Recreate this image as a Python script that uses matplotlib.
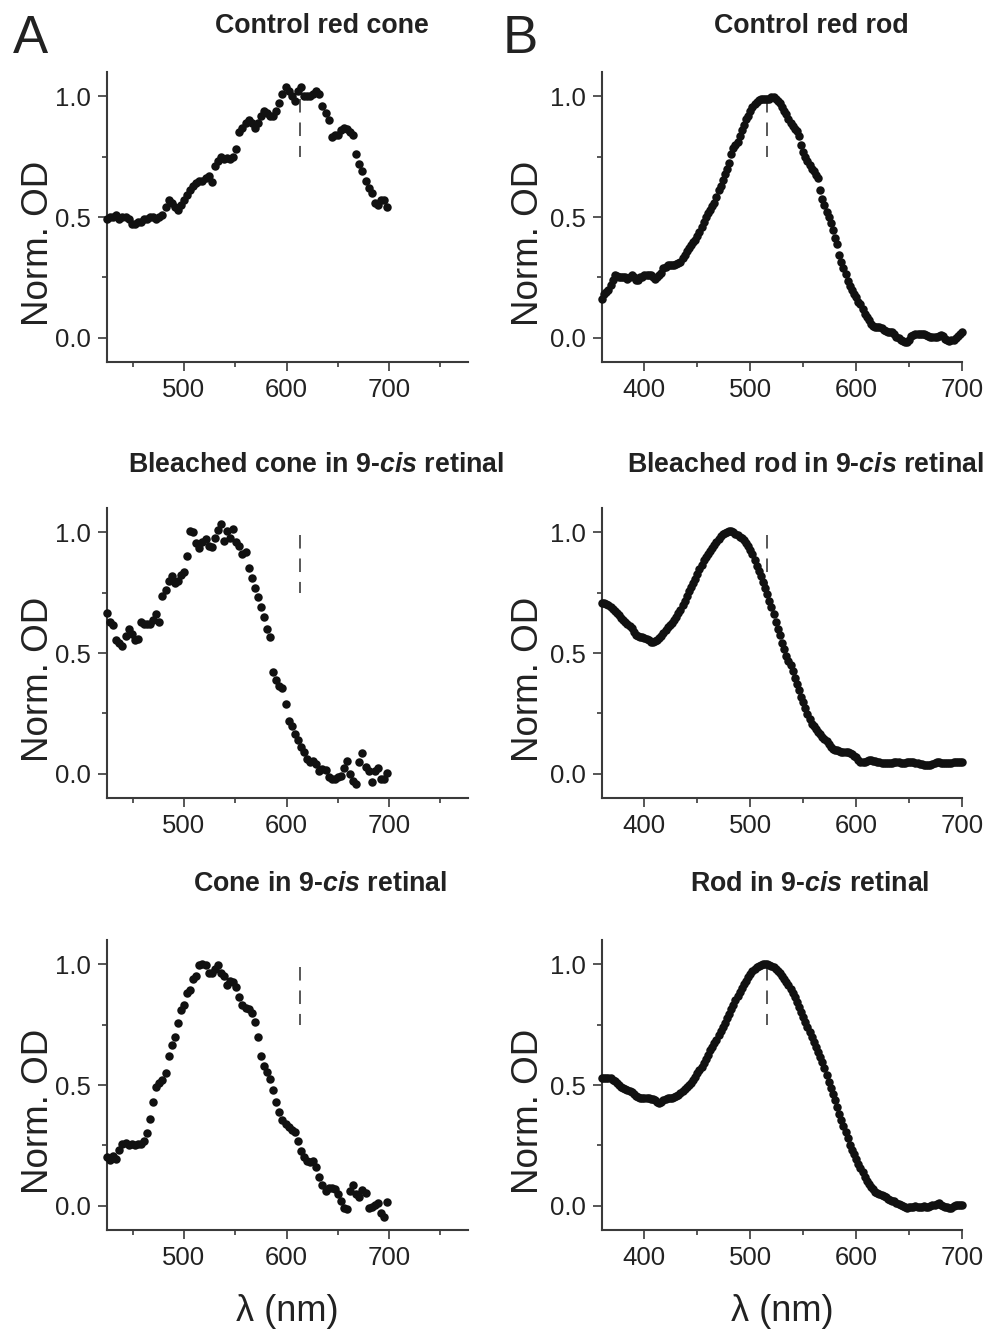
import numpy as np
import matplotlib
matplotlib.use('Agg')
import matplotlib.pyplot as plt

plt.rcParams['font.family'] = ['Liberation Sans', 'DejaVu Sans']
plt.rcParams['mathtext.fontset'] = 'custom'
plt.rcParams['mathtext.it'] = 'Liberation Sans:italic:bold'
plt.rcParams['mathtext.rm'] = 'Liberation Sans:bold'
plt.rcParams['mathtext.bf'] = 'Liberation Sans:bold'

# wavelength grids (nm)
cone_nm = np.arange(425, 701, 3)
rod_nm = np.arange(360, 701, 2)

# normalised OD
control_cone = [
    0.49, 0.50, 0.50, 0.51, 0.49, 0.50, 0.50, 0.49, 0.47, 0.47,
    0.48, 0.48, 0.49, 0.49, 0.50, 0.50, 0.49, 0.50, 0.51, 0.54,
    0.57, 0.56, 0.54, 0.53, 0.55, 0.57, 0.59, 0.61, 0.63, 0.64,
    0.65, 0.65, 0.66, 0.67, 0.645, 0.71, 0.73, 0.75, 0.74, 0.745,
    0.74, 0.75, 0.78, 0.85, 0.87, 0.89, 0.90, 0.89, 0.87, 0.89,
    0.92, 0.94, 0.93, 0.92, 0.92, 0.94, 0.97, 1.01, 1.04, 1.02,
    1.00, 0.98, 1.02, 1.04, 1.00, 1.00, 1.00, 1.01, 1.02, 1.01,
    0.96, 0.93, 0.90, 0.83, 0.84, 0.84, 0.86, 0.87, 0.865, 0.85,
    0.84, 0.76, 0.72, 0.69, 0.65, 0.62, 0.60, 0.56, 0.55, 0.57,
    0.57, 0.54]

bleached_cone = [
    0.665, 0.63, 0.615, 0.555, 0.54, 0.53, 0.57, 0.60, 0.58, 0.555,
    0.56, 0.63, 0.62, 0.62, 0.62, 0.635, 0.66, 0.63, 0.735, 0.76,
    0.80, 0.82, 0.79, 0.80, 0.825, 0.835, 0.90, 1.005, 1.00, 0.955,
    0.935, 0.96, 0.97, 0.945, 0.94, 0.975, 1.01, 1.035, 0.965, 1.005,
    0.975, 1.015, 0.96, 0.945, 0.91, 0.92, 0.85, 0.81, 0.77, 0.73,
    0.69, 0.65, 0.60, 0.565, 0.42, 0.39, 0.365, 0.355, 0.29, 0.22,
    0.20, 0.165, 0.14, 0.11, 0.09, 0.06, 0.05, 0.055, 0.04, 0.01,
    0.02, 0.015, -0.015, -0.02, -0.02, -0.015, -0.01, 0.025, 0.055, 0.00,
    -0.03, -0.04, 0.05, 0.085, 0.03, 0.01, -0.035, 0.01, 0.025, -0.02,
    -0.02, 0.005]

cis_cone = [
    0.20, 0.19, 0.205, 0.195, 0.23, 0.255, 0.26, 0.25, 0.255, 0.25,
    0.255, 0.255, 0.27, 0.30, 0.36, 0.43, 0.49, 0.51, 0.52, 0.55,
    0.62, 0.665, 0.70, 0.755, 0.81, 0.83, 0.88, 0.895, 0.94, 0.95,
    0.995, 1.0, 0.998, 0.965, 0.965, 0.98, 0.995, 0.965, 0.95, 0.915,
    0.93, 0.925, 0.905, 0.865, 0.83, 0.82, 0.815, 0.80, 0.76, 0.70,
    0.62, 0.58, 0.555, 0.525, 0.48, 0.43, 0.39, 0.355, 0.34, 0.325,
    0.315, 0.305, 0.27, 0.225, 0.20, 0.185, 0.18, 0.185, 0.16, 0.12,
    0.085, 0.06, 0.075, 0.075, 0.07, 0.05, 0.02, -0.01, -0.015, 0.06,
    0.085, 0.05, 0.035, 0.065, 0.055, -0.01, -0.005, 0.005, 0.01, -0.03,
    -0.045, 0.015]

control_rod = [
    0.16, 0.18, 0.19, 0.20, 0.22, 0.24, 0.26, 0.255, 0.25, 0.25,
    0.25, 0.25, 0.245, 0.25, 0.26, 0.25, 0.24, 0.24, 0.25, 0.25,
    0.26, 0.26, 0.26, 0.26, 0.25, 0.245, 0.25, 0.26, 0.27, 0.29,
    0.295, 0.30, 0.30, 0.30, 0.30, 0.305, 0.31, 0.315, 0.33, 0.345,
    0.36, 0.37, 0.385, 0.395, 0.405, 0.42, 0.44, 0.46, 0.48, 0.50,
    0.515, 0.53, 0.545, 0.56, 0.585, 0.61, 0.63, 0.655, 0.68, 0.70,
    0.725, 0.76, 0.785, 0.80, 0.81, 0.835, 0.86, 0.88, 0.905, 0.92,
    0.94, 0.955, 0.968, 0.977, 0.985, 0.99, 0.99, 0.99, 0.99, 0.99,
    0.995, 0.997, 0.99, 0.98, 0.97, 0.955, 0.94, 0.925, 0.905, 0.89,
    0.875, 0.866, 0.855, 0.835, 0.80, 0.77, 0.75, 0.73, 0.715, 0.70,
    0.69, 0.675, 0.66, 0.61, 0.575, 0.55, 0.52, 0.50, 0.475, 0.445,
    0.415, 0.39, 0.345, 0.315, 0.29, 0.265, 0.235, 0.215, 0.197, 0.182,
    0.17, 0.15, 0.14, 0.12, 0.10, 0.085, 0.073, 0.058, 0.05, 0.047,
    0.046, 0.043, 0.039, 0.033, 0.027, 0.025, 0.025, 0.025, 0.015, 0.005,
    0.0, -0.008, -0.012, -0.017, -0.017, -0.01, 0.008, 0.012, 0.018, 0.018,
    0.015, 0.018, 0.015, 0.012, 0.008, 0.004, 0.002, 0.005, 0.004, 0.006,
    0.01, 0.008, -0.005, -0.01, -0.012, -0.01, -0.008, 0.0, 0.006, 0.018,
    0.025]

bleached_rod = [
    0.705, 0.706, 0.703, 0.70, 0.692, 0.683, 0.675, 0.666, 0.657, 0.647,
    0.638, 0.63, 0.622, 0.612, 0.602, 0.585, 0.574, 0.57, 0.568, 0.566,
    0.562, 0.558, 0.552, 0.547, 0.546, 0.549, 0.553, 0.563, 0.572, 0.584,
    0.596, 0.606, 0.615, 0.625, 0.637, 0.651, 0.665, 0.68, 0.697, 0.716,
    0.738, 0.756, 0.772, 0.79, 0.808, 0.826, 0.848, 0.866, 0.884, 0.899,
    0.91, 0.922, 0.934, 0.948, 0.96, 0.972, 0.984, 0.992, 0.998, 1.002,
    1.003, 1.003, 1.0, 0.993, 0.987, 0.98, 0.975, 0.966, 0.957, 0.942,
    0.926, 0.908, 0.885, 0.862, 0.84, 0.818, 0.795, 0.77, 0.745, 0.716,
    0.69, 0.66, 0.63, 0.60, 0.573, 0.543, 0.515, 0.489, 0.467, 0.45,
    0.425, 0.397, 0.372, 0.345, 0.32, 0.297, 0.272, 0.248, 0.225, 0.207,
    0.196, 0.187, 0.175, 0.163, 0.153, 0.145, 0.137, 0.123, 0.112, 0.104,
    0.10, 0.097, 0.094, 0.092, 0.092, 0.091, 0.089, 0.086, 0.082, 0.075,
    0.068, 0.058, 0.051, 0.05, 0.051, 0.054, 0.057, 0.057, 0.055, 0.052,
    0.051, 0.049, 0.046, 0.044, 0.045, 0.044, 0.044, 0.046, 0.049, 0.051,
    0.049, 0.046, 0.044, 0.046, 0.049, 0.051, 0.05, 0.047, 0.044, 0.043,
    0.041, 0.039, 0.037, 0.036, 0.037, 0.037, 0.039, 0.045, 0.05, 0.048,
    0.045, 0.044, 0.044, 0.043, 0.044, 0.045, 0.047, 0.05, 0.051, 0.051,
    0.05]

cis_rod = [
    0.53, 0.53, 0.53, 0.53, 0.528, 0.522, 0.515, 0.507, 0.498, 0.492,
    0.488, 0.483, 0.479, 0.476, 0.472, 0.464, 0.456, 0.45, 0.447, 0.446,
    0.445, 0.445, 0.445, 0.444, 0.441, 0.437, 0.43, 0.424, 0.428, 0.438,
    0.444, 0.445, 0.445, 0.447, 0.45, 0.455, 0.46, 0.466, 0.475, 0.484,
    0.492, 0.50, 0.51, 0.522, 0.534, 0.548, 0.562, 0.576, 0.592, 0.607,
    0.625, 0.643, 0.658, 0.673, 0.688, 0.705, 0.722, 0.74, 0.758, 0.776,
    0.795, 0.813, 0.832, 0.851, 0.869, 0.887, 0.902, 0.917, 0.932, 0.947,
    0.961, 0.97, 0.979, 0.987, 0.993, 0.997, 0.999, 1.0, 0.999, 0.997,
    0.993, 0.987, 0.98, 0.971, 0.962, 0.951, 0.94, 0.928, 0.914, 0.899,
    0.882, 0.863, 0.843, 0.823, 0.803, 0.783, 0.762, 0.741, 0.72, 0.70,
    0.679, 0.659, 0.638, 0.617, 0.594, 0.57, 0.541, 0.514, 0.489, 0.462,
    0.436, 0.41, 0.382, 0.355, 0.33, 0.305, 0.28, 0.253, 0.233, 0.215,
    0.193, 0.173, 0.155, 0.138, 0.12, 0.103, 0.09, 0.078, 0.068, 0.059,
    0.052, 0.048, 0.043, 0.039, 0.035, 0.03, 0.025, 0.022, 0.018, 0.012,
    0.008, 0.004, -0.002, -0.006, -0.01, -0.006, -0.004, -0.003, -0.002, -0.004,
    -0.003, -0.003, -0.002, -0.004, -0.003, 0.0, 0.003, 0.004, 0.008, 0.011,
    0.005, 0.0, -0.003, -0.006, -0.01, -0.008, -0.002, 0.004, 0.004, 0.004,
    0.002]

cone_peak = 613   # dashed marker, control red cone lambda max
rod_peak = 516    # dashed marker, control red rod lambda max

titles = [
    ['Control red cone', 'Control red rod'],
    [r'Bleached cone in 9-$\mathit{cis}$ retinal', r'Bleached rod in 9-$\mathit{cis}$ retinal'],
    [r'Cone in 9-$\mathit{cis}$ retinal', r'Rod in 9-$\mathit{cis}$ retinal'],
]
cone_series = [control_cone, bleached_cone, cis_cone]
rod_series = [control_rod, bleached_rod, cis_rod]

fig = plt.figure(figsize=(9.92, 13.3), dpi=100)

col_x = [0.1079, 0.6069]
col_w = [0.364, 0.3629]
row_y = [0.7278, 0.4000, 0.0752]
row_h = 0.218
title_x = [[0.3246, 0.8182], [0.319, 0.812], [0.3226, 0.8165]]
title_y = [0.975, 0.645, 0.330]

dot = dict(ls='none', marker='o', ms=6.1, mew=0, color='#111111', clip_on=False, zorder=3)
dash = dict(color='#4a4a4a', lw=1.3, ls=(0, (7.5, 5.5)), zorder=2)

for r in range(3):
    for c in range(2):
        ax = fig.add_axes([col_x[c], row_y[r], col_w[c], row_h])
        if c == 0:
            ax.plot(cone_nm, cone_series[r], **dot)
            ax.plot([cone_peak, cone_peak], [0.99, 0.75], **dash)
            ax.set_xlim(425, 777)
            ax.set_xticks([500, 600, 700])
            ax.set_xticks([450, 550, 650, 750], minor=True)
        else:
            ax.plot(rod_nm, rod_series[r], **dot)
            ax.plot([rod_peak, rod_peak], [0.99, 0.75], **dash)
            ax.set_xlim(360, 700)
            ax.set_xticks([400, 500, 600, 700])
            ax.set_xticks([450, 550, 650], minor=True)
        ax.set_ylim(-0.1, 1.1)
        ax.set_yticks([0.0, 0.5, 1.0])
        ax.set_yticklabels(['0.0', '0.5', '1.0'])
        ax.set_yticks([0.25, 0.75], minor=True)
        for s in ['top', 'right']:
            ax.spines[s].set_visible(False)
        for s in ['left', 'bottom']:
            ax.spines[s].set_linewidth(1.5)
            ax.spines[s].set_color('#3a3a3a')
        ax.tick_params(which='major', direction='out', length=6.5, width=1.2,
                       color='#3a3a3a', labelsize=18.5, labelcolor='#222222', pad=5)
        ax.tick_params(which='minor', direction='out', length=3.8, width=1.2,
                       color='#3a3a3a')
        ax.set_ylabel('Norm. OD', fontsize=26.5, color='#222222')
        ax.yaxis.set_label_coords(-0.14 if c == 0 else -0.155, 0.41)
        if r == 2:
            ax.set_xlabel('λ (nm)', fontsize=26, color='#222222')
            ax.xaxis.set_label_coords(0.5, -0.222)
        fig.text(title_x[r][c], title_y[r], titles[r][c], ha='center', va='baseline',
                 fontsize=19.3, fontweight='bold', color='#222222')

fig.text(0.0131, 0.960, 'A', fontsize=38, color='#222222', va='baseline')
fig.text(0.507, 0.960, 'B', fontsize=38, color='#222222', va='baseline')

fig.savefig('out.png', dpi=100)
